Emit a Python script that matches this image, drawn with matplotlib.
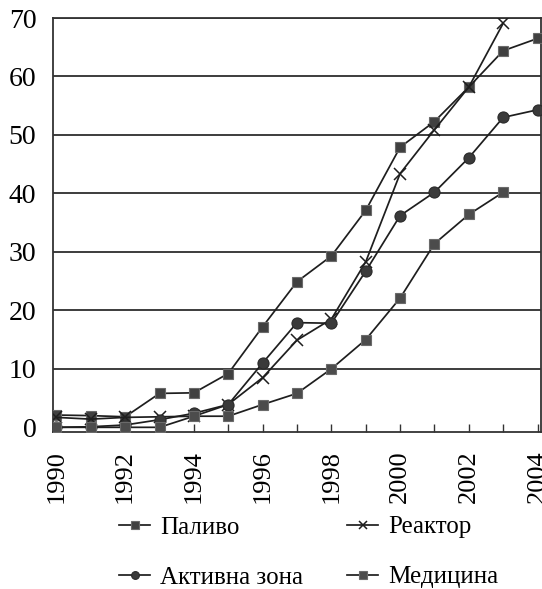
import matplotlib
matplotlib.use("Agg")
import matplotlib.pyplot as plt

years = list(range(1990, 2005))
paluvo = [2.1, 2.0, 1.8, 5.8, 5.9, 9.2, 17.2, 24.9, 29.3, 37.1, 47.9, 52.3, 58.2, 64.4, 66.5]
reaktor = [1.7, 1.4, 1.7, 1.8, 1.9, 3.9, 8.5, 14.9, 18.5, 28.3, 43.4, 50.9, 58.2, 69.1]
aktyvna = [0.0, 0.1, 0.4, 1.3, 2.4, 3.9, 11.0, 17.9, 17.8, 26.7, 36.2, 40.2, 46.1, 53.0, 54.3]
medytsyna = [0.0, 0.0, 0.0, 0.0, 1.9, 1.9, 3.9, 5.8, 10.0, 15.0, 22.1, 31.4, 36.4, 40.2]
labels = ["Паливо", "Реактор", "Активна зона", "Медицина"]
yticks = [0, 10, 20, 30, 40, 50, 60, 70]
xticklabels_years = list(range(1990, 2005, 2))

plt.rcParams['font.family'] = ['Liberation Serif', 'DejaVu Serif']

fig = plt.figure(figsize=(5.42, 5.89), dpi=100)
ax = fig.add_axes([53/542, 1-432/589, (541-53)/542, (432-18)/589])

lc = '#1e1e1e'
lw = 1.25
h1, = ax.plot(years[:len(paluvo)], paluvo, color=lc, lw=lw, marker='s', ms=7.3,
              mfc='#404040', mec='#6a6a6a', mew=0.8, label=labels[0], zorder=3)
h2, = ax.plot(years[:len(reaktor)], reaktor, color=lc, lw=lw, marker='x', ms=8,
              mec='#1e1e1e', mew=1.1, label=labels[1], zorder=3)
h3, = ax.plot(years[:len(aktyvna)], aktyvna, color=lc, lw=lw, marker='o', ms=8,
              mfc='#3a3a3a', mec='#2a2a2a', mew=0.8, label=labels[2], zorder=3)
h4, = ax.plot(years[:len(medytsyna)], medytsyna, color=lc, lw=lw, marker='s', ms=7.3,
              mfc='#4c4c4c', mec='#6a6a6a', mew=0.8, label=labels[3], zorder=3)

ax.set_xlim(1989.9, 2004.1)
ax.set_ylim(-0.8, 70)
ax.set_yticks(yticks)
ax.set_yticklabels([str(v) for v in yticks], fontsize=20)
ax.set_xticks(years)
ax.set_xticklabels([str(y) if y in xticklabels_years else '' for y in years],
                   rotation=90, fontsize=19)
ax.tick_params(axis='x', direction='in', length=6, width=1.0, color='#333333', pad=13)
ax.tick_params(axis='y', length=0, pad=12)

for v in yticks[1:]:
    ax.axhline(v, color='#3c3c3c', lw=1.4, zorder=1)

for s in ax.spines.values():
    s.set_color('#333333')
    s.set_linewidth(1.3)

leg = fig.legend([h1, h3, h2, h4], [labels[0], labels[2], labels[1], labels[3]],
                 loc='upper left', bbox_to_anchor=(119/542, 1-516/589), ncol=2,
                 frameon=False, fontsize=18, handlelength=1.25, handletextpad=0.4,
                 columnspacing=1.75, labelspacing=1.1, borderpad=0, borderaxespad=0,
                 markerscale=0.7, numpoints=1)

fig.savefig("out.png", dpi=100)
